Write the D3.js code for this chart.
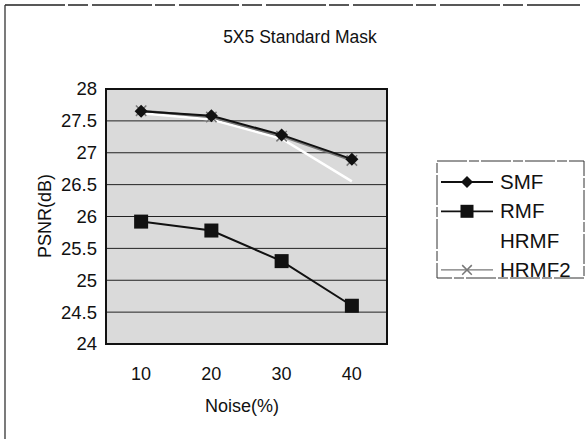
<!DOCTYPE html>
<html>
<head>
<meta charset="utf-8">
<script src="https://cdn.jsdelivr.net/npm/d3@7"></script>
<style>
  html, body { margin: 0; padding: 0; background: #fff; }
  svg text { font-family: "Liberation Sans", Arial, sans-serif; fill: #111; }
</style>
</head>
<body>
<svg id="chart" width="588" height="439"></svg>
<script>
const categories = ["10", "20", "30", "40"];
const smf   = [27.65, 27.58, 27.28, 26.90];
const rmf   = [25.92, 25.78, 25.30, 24.60];
const hrmf  = [27.62, 27.52, 27.22, 26.55];
const hrmf2 = [27.66, 27.56, 27.26, 26.88];
const yTicks = [24, 24.5, 25, 25.5, 26, 26.5, 27, 27.5, 28];
const yTickLabels = ["24", "24.5", "25", "25.5", "26", "26.5", "27", "27.5", "28"];

const svg = d3.select("#chart");
const plot = { left: 106, right: 387, top: 89, bottom: 344 };

// outer frame (top + left visible)
svg.append("line").attr("x1", 5).attr("x2", 580).attr("y1", 5).attr("y2", 5)
  .attr("stroke", "#222").attr("stroke-width", 1.3).attr("stroke-dasharray", "60,3,20,4");
svg.append("line").attr("x1", 5).attr("x2", 5).attr("y1", 5).attr("y2", 439)
  .attr("stroke", "#333").attr("stroke-width", 1.3);

// title
svg.append("text").attr("x", 300).attr("y", 43).attr("text-anchor", "middle")
  .style("font-size", "17.5px").text("5X5 Standard Mask");

const x = d3.scaleBand().domain(categories).range([plot.left, plot.right]);
const y = d3.scaleLinear().domain([24, 28]).range([plot.bottom, plot.top]);

// plot background
svg.append("rect").attr("x", plot.left).attr("y", plot.top)
  .attr("width", plot.right - plot.left).attr("height", plot.bottom - plot.top)
  .attr("fill", "#dadada");

// gridlines
svg.append("g").selectAll("line").data(yTicks.slice(1, -1)).join("line")
  .attr("x1", plot.left).attr("x2", plot.right)
  .attr("y1", d => y(d)).attr("y2", d => y(d))
  .attr("stroke", "#222").attr("stroke-width", 1);

// axes
const yAxis = d3.axisLeft(y).tickValues(yTicks).tickFormat((d, i) => yTickLabels[i]).tickSize(0).tickPadding(9);
const gy = svg.append("g").attr("transform", `translate(${plot.left},0)`).call(yAxis);
gy.select(".domain").remove();
gy.selectAll("text").style("font-size", "18.5px").attr("fill", "#111");

const xAxis = d3.axisBottom(x).tickSize(0).tickPadding(23);
const gx = svg.append("g").attr("transform", `translate(0,${plot.bottom})`).call(xAxis);
gx.select(".domain").remove();
gx.selectAll("text").style("font-size", "18px").attr("fill", "#111");

// plot border
svg.append("rect").attr("x", plot.left).attr("y", plot.top)
  .attr("width", plot.right - plot.left).attr("height", plot.bottom - plot.top)
  .attr("fill", "none").attr("stroke", "#111").attr("stroke-width", 2);

// axis titles
svg.append("text").attr("x", 242).attr("y", 412).attr("text-anchor", "middle")
  .style("font-size", "18px").text("Noise(%)");
svg.append("text").attr("transform", "translate(51,216) rotate(-90)").attr("text-anchor", "middle")
  .style("font-size", "18px").text("PSNR(dB)");

const cx = c => x(c) + x.bandwidth() / 2;
const line = d3.line().x((d, i) => cx(categories[i])).y(d => y(d));

const series = [
  { name: "HRMF", values: hrmf, color: "#ffffff", width: 2.5, marker: "none" },
  { name: "HRMF2", values: hrmf2, color: "#777777", width: 2.5, marker: "x" },
  { name: "SMF", values: smf, color: "#111111", width: 2, marker: "diamond" },
  { name: "RMF", values: rmf, color: "#111111", width: 2, marker: "square" }
];

function drawMarker(g, type, px, py, color, r) {
  if (type === "diamond") {
    g.append("path").attr("d", `M${px},${py-r}L${px+r},${py}L${px},${py+r}L${px-r},${py}Z`).attr("fill", color);
  } else if (type === "square") {
    g.append("rect").attr("x", px - r).attr("y", py - r).attr("width", 2 * r).attr("height", 2 * r).attr("fill", color);
  } else if (type === "x") {
    const k = r * 0.8;
    g.append("path").attr("d", `M${px-k},${py-k}L${px+k},${py+k}M${px-k},${py+k}L${px+k},${py-k}`)
      .attr("stroke", color).attr("stroke-width", 1.5).attr("fill", "none");
  }
}

series.forEach(s => {
  const g = svg.append("g");
  g.append("path").datum(s.values).attr("d", line).attr("fill", "none")
    .attr("stroke", s.color).attr("stroke-width", s.width);
  s.values.forEach((v, i) => drawMarker(g, s.marker, cx(categories[i]), y(v), s.color, s.marker === "square" ? 7 : 6.5));
});

// legend
const legend = svg.append("g");
legend.append("rect").attr("x", 437).attr("y", 161).attr("width", 147).attr("height", 117)
  .attr("fill", "#fff").attr("stroke", "#333").attr("stroke-width", 1).attr("stroke-dasharray", "30,2,10,2");
const legendItems = [
  { name: "SMF", color: "#111", marker: "diamond", show: true },
  { name: "RMF", color: "#111", marker: "square", show: true },
  { name: "HRMF", color: "#fff", marker: "none", show: false },
  { name: "HRMF2", color: "#777", marker: "x", show: true }
];
legendItems.forEach((it, i) => {
  const ly = 182 + i * 29.3;
  if (it.show) {
    legend.append("line").attr("x1", 441).attr("x2", 493).attr("y1", ly).attr("y2", ly)
      .attr("stroke", it.color).attr("stroke-width", it.marker === "x" ? 1.2 : 1.8);
    drawMarker(legend, it.marker, 467, ly, it.color, it.marker === "square" ? 6.5 : 6);
  }
  legend.append("text").attr("x", 500).attr("y", ly + 7).style("font-size", "20.5px").text(it.name);
});
</script>
</body>
</html>
